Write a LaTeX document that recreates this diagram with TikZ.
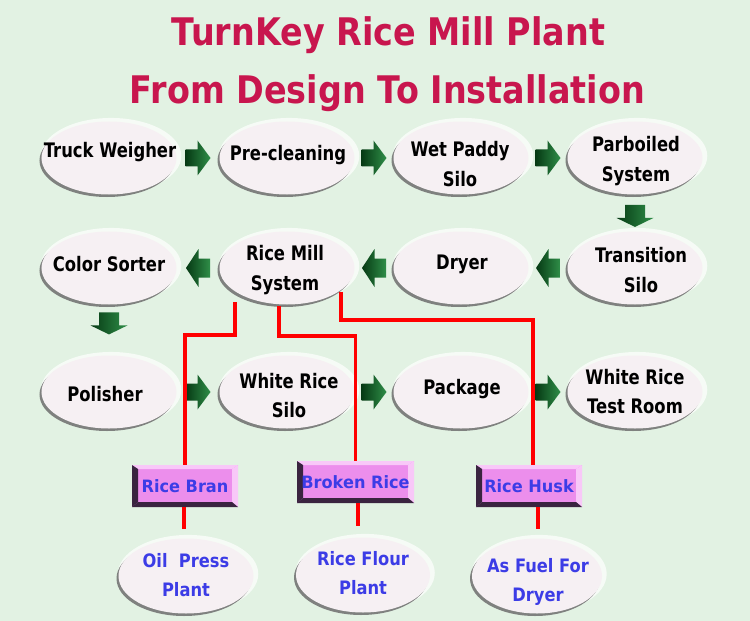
\documentclass[tikz,border=0pt]{standalone}
\usepackage{fontspec}
\setmainfont{DejaVu Sans}
\usetikzlibrary{shapes.geometric,shadows,calc}
\definecolor{bgc}{HTML}{E2F2E3}
\definecolor{ellc}{HTML}{F6F0F3}
\definecolor{shgray}{HTML}{6E6E6E}
\definecolor{gdark}{HTML}{063A14}
\definecolor{glight}{HTML}{2F8E48}
\definecolor{linered}{HTML}{FF0000}
\definecolor{boxfill}{HTML}{EC8EEC}
\definecolor{boxdark}{HTML}{3A2440}
\definecolor{boxlight}{HTML}{F8C8F8}
\definecolor{bluetxt}{HTML}{3C3CE6}
\definecolor{titlec}{HTML}{C8164E}
\newcommand\sqz[1]{\scalebox{0.82}[1]{#1}}
\newcommand\squ[1]{\scalebox{0.88}[1]{#1}}
\newcommand\sqb[1]{\scalebox{0.95}[1]{#1}}
\newcommand\tA{\resizebox{433bp}{\height}{TurnKey Rice Mill Plant}}
\newcommand\tB{\resizebox{515bp}{\height}{From Design To Installation}}
\tikzset{
  proc/.style={ellipse, minimum width=135bp, minimum height=73bp, inner sep=0pt, fill=ellc,
    general shadow={shadow xshift=2bp, shadow yshift=2bp, shadow scale=1.04, fill=white, opacity=0.7},
    drop shadow={shadow xshift=-2bp, shadow yshift=-2.5bp, fill=shgray, opacity=0.85}},
  ptext/.style={font=\bfseries\fontsize{20bp}{29.5bp}\selectfont, align=center, inner sep=0pt, text=black},
  btext/.style={font=\bfseries\fontsize{18.5bp}{29bp}\selectfont, align=center, inner sep=0pt, text=bluetxt},
  ttl/.style={anchor=base, inner sep=0pt, text=titlec, font=\bfseries\fontsize{38bp}{42bp}\selectfont},
  prod/.style={rectangle, minimum height=42bp, inner sep=0pt, fill=boxfill, text=bluetxt,
    font=\bfseries\fontsize{17bp}{20bp}\selectfont,
    path picture={
      \coordinate (pNW) at (path picture bounding box.north west);
      \coordinate (pNE) at (path picture bounding box.north east);
      \coordinate (pSW) at (path picture bounding box.south west);
      \coordinate (pSE) at (path picture bounding box.south east);
      \fill[boxlight] (pNW) -- (pNE) -- ($(pNE)+(-6,4)$) -- ($(pNW)+(6,4)$) -- cycle;
      \fill[boxlight] (pNE) -- (pSE) -- ($(pSE)+(-6,-5)$) -- ($(pNE)+(-6,4)$) -- cycle;
      \fill[boxdark] (pSW) -- (pSE) -- ($(pSE)+(-6,-5)$) -- ($(pSW)+(6,-5)$) -- cycle;
      \fill[boxdark] (pNW) -- (pSW) -- ($(pSW)+(6,-5)$) -- ($(pNW)+(6,4)$) -- cycle;
    }},
  redline/.style={draw=linered, line width=3.5bp},
  rarr/.pic={\shade[left color=gdark, right color=glight]
    (-12.5,-8.5) -- (-0.5,-8.5) -- (-0.5,-17.5) -- (12.5,0) -- (-0.5,17.5) -- (-0.5,8.5) -- (-12.5,8.5) -- cycle;},
  larr/.pic={\shade[left color=gdark, right color=glight]
    (12,-9.5) -- (0.5,-9.5) -- (0.5,-19) -- (-12,0) -- (0.5,19) -- (0.5,9.5) -- (12,9.5) -- cycle;},
  darr/.pic={\shade[left color=gdark, right color=glight]
    (-10,-11) -- (10,-11) -- (10,2) -- (18.5,2) -- (0,11) -- (-18.5,2) -- (-10,2) -- cycle;}
}
\begin{document}
\begin{tikzpicture}[x=1bp,y=-1bp]
\useasboundingbox (0,0) rectangle (750,621);
\fill[bgc] (0,0) rectangle (750,621);

% title
\node[ttl] (t1) at (388.5,46) {\tA};
\node[ttl] (t2) at (387.5,103.5) {\tB};

% process ellipses
\node[proc] (tw) at (109,158) {};
\node[proc] (pc) at (287,158) {};
\node[proc] (wp) at (461,158) {};
\node[proc] (pb) at (635,158) {};
\node[proc] (cs) at (109,268) {};
\node[proc] (rm) at (287,268) {};
\node[proc] (dr) at (461,268) {};
\node[proc] (ts) at (635,268) {};
\node[proc] (po) at (109,392) {};
\node[proc] (wr) at (287,392) {};
\node[proc] (pk) at (461,392) {};
\node[proc] (wt) at (635,392) {};
\node[proc, minimum width=135bp, minimum height=75bp] (oil) at (186,576) {};
\node[proc, minimum width=134bp, minimum height=75bp] (flour) at (363,575) {};
\node[proc, minimum width=130bp, minimum height=75bp] (fuel) at (537,576) {};

% texts
\node[ptext] (twt) at ($(tw)+(1,-6)$) {\sqz{Truck Weigher}};
\node[ptext] (pct) at ($(pc)+(1,-3)$) {\sqz{Pre-cleaning}};
\node[ptext] (wpt) at ($(wp)+(-1,6)$) {\sqz{Wet Paddy}\\\sqz{Silo}};
\node[ptext] (pbt) at ($(pb)+(1,3)$) {\sqz{Parboiled}\\\sqz{System}};
\node[ptext] (cst) at ($(cs)+(0,-4)$) {\sqz{Color Sorter}};
\node[ptext] (rmt) at ($(rm)+(-2,2)$) {\sqz{Rice Mill}\\\sqz{System}};
\node[ptext] (drt) at ($(dr)+(1,-4)$) {\sqz{Dryer}};
\node[ptext] (tst) at ($(ts)+(6,2)$) {\sqz{Transition}\\\sqz{Silo}};
\node[ptext] (pot) at ($(po)+(-4,2)$) {\sqz{Polisher}};
\node[ptext] (wrt) at ($(wr)+(2,3.5)$) {\sqz{White Rice}\\\sqz{Silo}};
\node[ptext] (pkt) at ($(pk)+(1,-3)$) {\sqz{Package}};
\node[ptext] (wtt) at ($(wt)+(0,-0.5)$) {\sqz{White Rice}\\\sqz{Test Room}};
\node[btext] (oilt) at ($(oil)+(0,-0.5)$) {\squ{Oil\ \ Press}\\\squ{Plant}};
\node[btext] (flourt) at ($(flour)+(0,-1.5)$) {\squ{Rice Flour}\\\squ{Plant}};
\node[btext] (fuelt) at ($(fuel)+(1,6)$) {\squ{As Fuel For}\\\squ{Dryer}};

% block arrows
\pic at ($(tw.east)!0.5!(pc.west)$) {rarr};
\pic at ($(pc.east)!0.5!(wp.west)$) {rarr};
\pic at ($(wp.east)!0.5!(pb.west)$) {rarr};
\pic at ($(pb.south)!0.58!(ts.north)$) {darr};
\pic at ($(ts.west)!0.5!(dr.east)$) {larr};
\pic at ($(dr.west)!0.5!(rm.east)$) {larr};
\pic at ($(rm.west)!0.5!(cs.east)$) {larr};
\pic at ($(cs.south)!0.37!(po.north)$) {darr};
\pic at ($(po.east)!0.5!(wr.west)$) {rarr};
\pic at ($(wr.east)!0.5!(pk.west)$) {rarr};
\pic at ($(pk.east)!0.5!(wt.west)$) {rarr};

% by-product boxes
\node[prod, minimum width=106bp] (bran) at (185,486) {\sqb{Rice Bran}};
\node[prod, minimum width=117bp] (broken) at (355.5,482) {\sqb{Broken Rice}};
\node[prod, minimum width=106bp] (husk) at (529,486) {\sqb{Rice Husk}};

% red connectors
\coordinate (c1) at ($(rm)+(-52,34)$);
\coordinate (k1) at ($(rm)+(-52,67)$);
\coordinate (c2) at ($(rm)+(-8,38)$);
\coordinate (k2) at ($(rm)+(-8,68)$);
\coordinate (c3) at ($(rm)+(54,24)$);
\coordinate (k3) at ($(rm)+(54,52)$);
\coordinate (h3) at ($(husk.north)+(4,0)$);
\draw[redline] (c1) -- (k1) -| (bran.north);
\draw[redline] (c2) -- (k2) -| (broken.north);
\draw[redline] (c3) -- (k3) -| (h3);

\coordinate (b1) at ($(bran.south)+(-1,0)$);
\coordinate (o1) at ($(oil.north)+(0,-9)$);
\coordinate (b2) at ($(broken.south)+(2.5,0)$);
\coordinate (o2) at ($(flour.north)+(0,-11)$);
\coordinate (b3) at ($(husk.south)+(9,0)$);
\coordinate (o3) at ($(fuel.north)+(0,-9)$);
\draw[redline] (b1) -- (b1 |- o1);
\draw[redline] (b2) -- (b2 |- o2);
\draw[redline] (b3) -- (b3 |- o3);
\end{tikzpicture}
\end{document}
